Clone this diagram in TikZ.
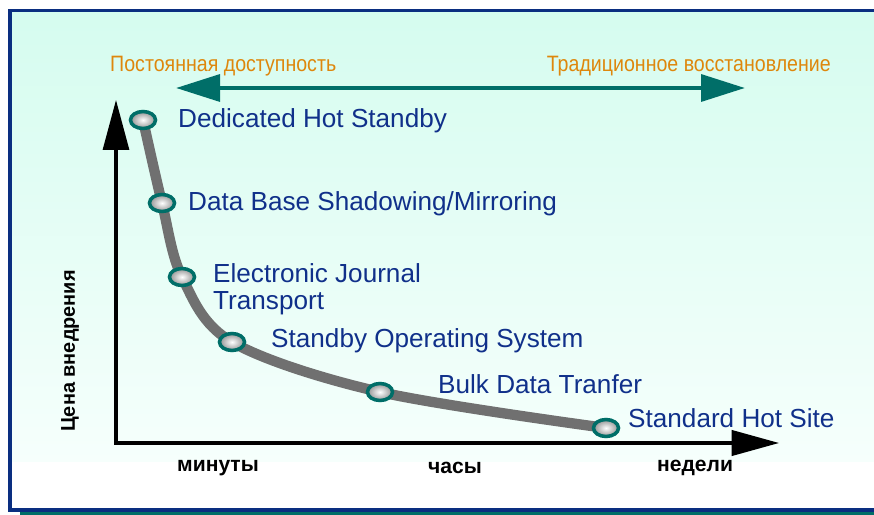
\documentclass[tikz,border=0pt]{standalone}
\usepackage{fontspec}
\setmainfont{Liberation Sans}
\newfontfamily\narrowfont[FakeStretch=0.88]{Liberation Sans}
\usetikzlibrary{arrows.meta,shapes.geometric}
\definecolor{navy}{RGB}{10,46,128}
\definecolor{tealc}{RGB}{0,110,104}
\definecolor{bgtop}{RGB}{213,252,239}
\definecolor{bgbot}{RGB}{246,255,252}
\definecolor{labblue}{RGB}{16,48,138}
\definecolor{orangec}{RGB}{222,135,12}
\definecolor{curvegray}{RGB}{112,112,112}
\tikzset{
  method/.style={anchor=west, inner sep=0, text=labblue, font=\fontsize{22.3}{23}\selectfont, align=left},
  goal/.style={inner sep=0, text=orangec, font=\narrowfont\fontsize{19}{21}\selectfont},
  timelab/.style={inner sep=0, font=\bfseries\fontsize{18}{20}\selectfont},
  dot/.style={ellipse, draw=tealc, line width=3pt, minimum width=0.75cm, minimum height=0.51cm,
    inner sep=0, inner color=white, outer color=gray!85},
}
\begin{document}
\begin{tikzpicture}[x=0.03cm, y=-0.03cm]
\useasboundingbox (0,0) rectangle (874,515);
% frame with shadow
\fill[tealc] (20,30) rectangle (900,516);
\fill[white] (10,10.5) rectangle (890,510);
\shade[top color=bgtop, bottom color=bgbot] (10,10.5) rectangle (890,461);
\draw[navy, line width=3.4pt] (10,10.5) rectangle (890,510);

% axes
\coordinate (ytop) at (116,100);
\coordinate (O) at (116,443);
\coordinate (xend) at (779,443);
\draw[line width=2.6pt, {Triangle[length=1.5cm,width=0.78cm]}-{Triangle[length=1.42cm,width=0.76cm]}] (ytop) -- (O) -- (xend);

% availability arrow
\node[goal, anchor=west] (cont) at (110,66) {Постоянная доступность};
\node[goal, anchor=east] (trad) at (831,66) {Традиционное восстановление};
\coordinate (al) at (176,88);
\coordinate (ar) at (745,88);
\draw[tealc, line width=3.8pt, {Triangle[length=1.32cm,width=0.8cm]}-{Triangle[length=1.32cm,width=0.8cm]}] (al) -- (ar);

% axis labels
\node[timelab] (mins) at (218,468) {минуты};
\node[timelab] (hrs) at (455,468) {часы};
\node[timelab] (wks) at (695,468) {недели};
\node[timelab, rotate=90, font=\bfseries\fontsize{17}{20}\selectfont] (cost) at (70,351) {Цена внедрения};

% curve
\coordinate (p1) at (143,120);
\coordinate (p2) at (162,203);
\coordinate (p3) at (182,277);
\coordinate (p4) at (232,342);
\coordinate (p5) at (380,392);
\coordinate (p6) at (606,428);
\draw[curvegray, line width=8.8pt] plot[smooth, tension=0.55] coordinates {(p1) (p2) (p3) (p4) (p5) (p6)};
\foreach \p in {p1,p2,p3,p4,p5,p6}
  \node[dot] (m\p) at (\p) {};

% methods
\node[method] (hot) at (178,121) {Dedicated Hot Standby};
\node[method] (shadow) at (188,204) {Data Base Shadowing/Mirroring};
\node[method] (journal) at (213,289) {Electronic Journal\\Transport};
\node[method] (standby) at (271,341) {Standby Operating System};
\node[method] (bulk) at (438,384) {Bulk Data Tranfer};
\node[method] (site) at (628,418) {Standard Hot Site};
\end{tikzpicture}
\end{document}
